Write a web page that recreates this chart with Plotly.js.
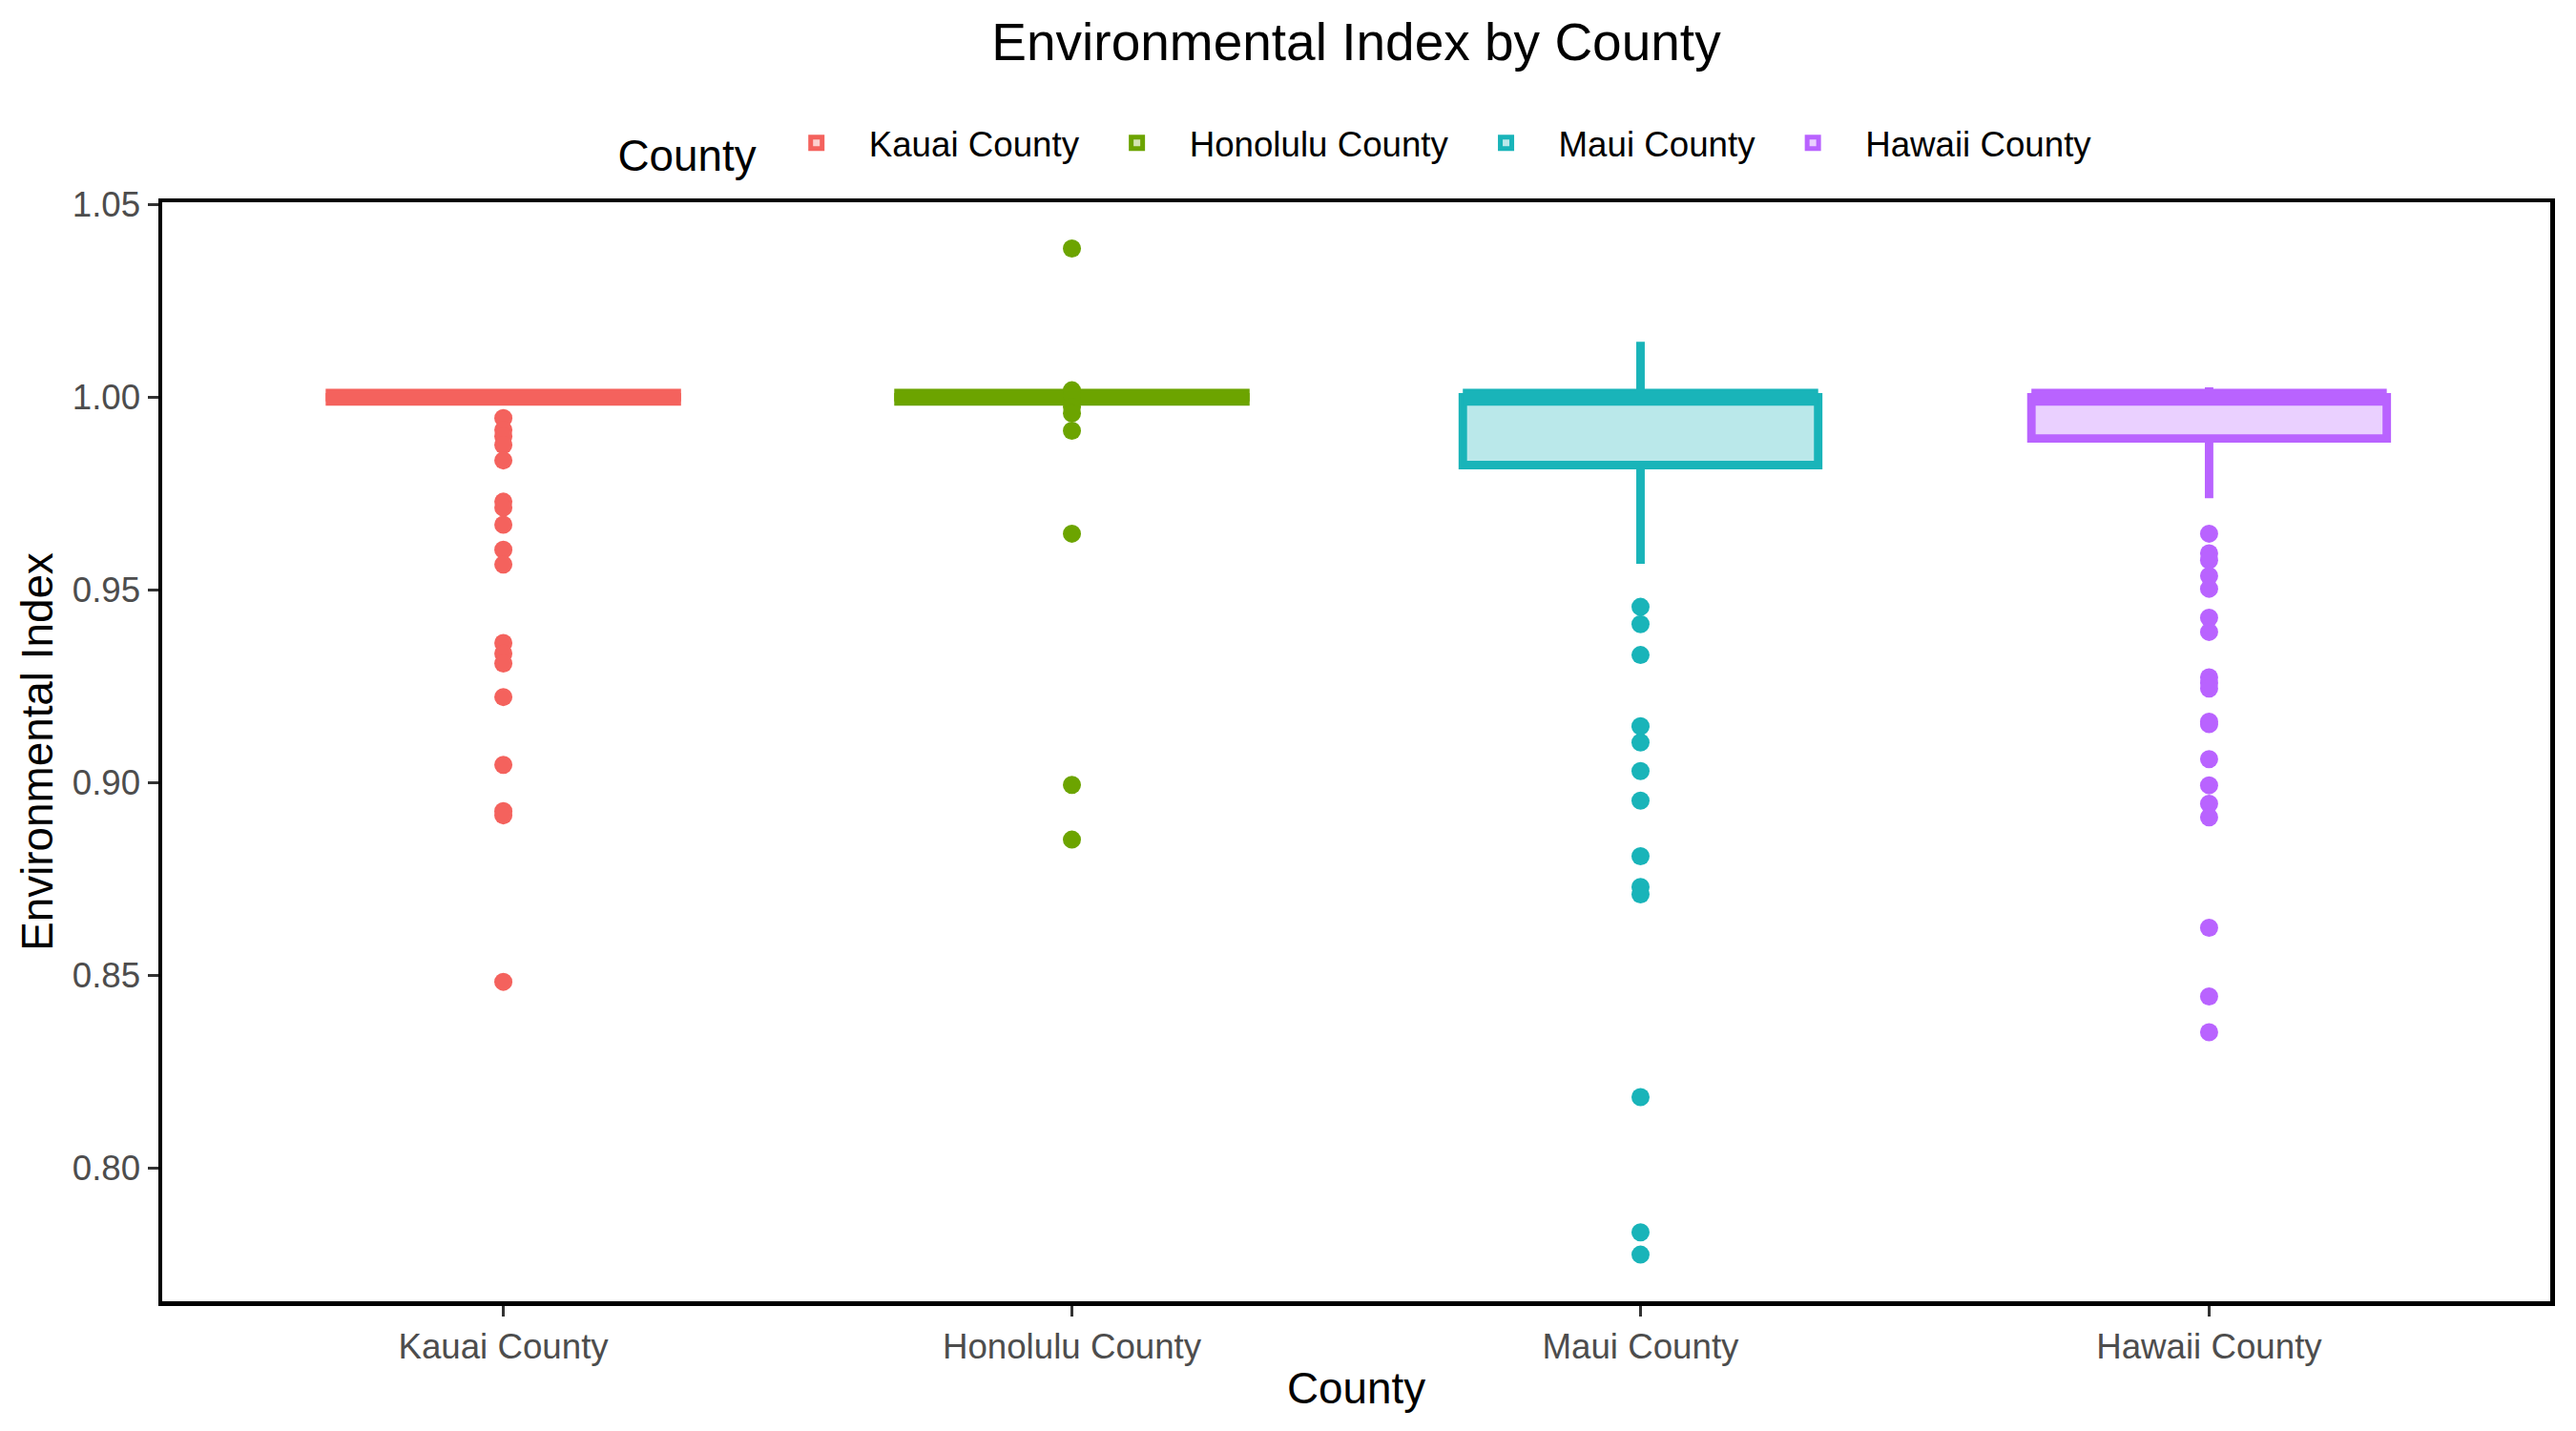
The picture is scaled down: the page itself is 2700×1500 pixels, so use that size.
<!DOCTYPE html>
<html>
<head>
<meta charset="utf-8">
<script src="https://cdn.plot.ly/plotly-3.0.1.min.js"></script>
<style>
  html, body { margin: 0; padding: 0; background: #ffffff; }
  #chart { width: 2700px; height: 1500px; }
</style>
</head>
<body>
<div id="chart"></div>
<script>
// ---- Data ----
const counties = ['Kauai County', 'Honolulu County', 'Maui County', 'Hawaii County'];

// Box statistics per county (same order as counties)
const q1Values = [1.0, 1.0, 0.9824, 0.9893];
const medianValues = [1.0, 1.0, 1.0, 1.0];
const q3Values = [1.0, 1.0, 1.0, 1.0];
const lowerWhiskers = [1.0, 1.0, 0.9568, 0.9738];
const upperWhiskers = [1.0, 1.0, 1.0144, 1.0026];

// Outlier points per county
const kauaiOutliers = [0.9946, 0.9915, 0.9898, 0.9876, 0.9836, 0.9729, 0.9714, 0.9669, 0.9604,
  0.9566, 0.9362, 0.9335, 0.9309, 0.9222, 0.9046, 0.8926, 0.8915, 0.8483];
const honoluluOutliers = [1.0386, 1.0018, 1.0006, 0.9975, 0.9958, 0.9913, 0.9646, 0.8994, 0.8852];
const mauiOutliers = [0.9456, 0.9411, 0.9331, 0.9146, 0.9104, 0.9030, 0.8953, 0.8809, 0.8729,
  0.8710, 0.8184, 0.7833, 0.7775];
const hawaiiOutliers = [0.9646, 0.9595, 0.9577, 0.9536, 0.9503, 0.9428, 0.9391, 0.9273, 0.9258,
  0.9244, 0.9158, 0.9152, 0.9061, 0.8993, 0.8945, 0.8910, 0.8623, 0.8445, 0.8352];
const outliers = [kauaiOutliers, honoluluOutliers, mauiOutliers, hawaiiOutliers];

// ---- Styles ----
const lineColors = ['rgb(244,98,93)', 'rgb(108,164,0)', 'rgb(25,180,185)', 'rgb(185,99,255)'];
const fillColors = ['rgba(244,98,93,0.3)', 'rgba(108,164,0,0.3)', 'rgba(25,180,185,0.3)', 'rgba(185,99,255,0.3)'];
const FONT = 'Liberation Sans, Arial, Helvetica, sans-serif';
const BOX_WIDTH = 0.625;

const traces = [];
counties.forEach((c, i) => {
  traces.push({
    type: 'box',
    name: c,
    legendgroup: c,
    x: [c],
    q1: [q1Values[i]],
    median: [medianValues[i]],
    q3: [q3Values[i]],
    lowerfence: [lowerWhiskers[i]],
    upperfence: [upperWhiskers[i]],
    width: BOX_WIDTH,
    whiskerwidth: 0,
    boxpoints: false,
    line: { color: lineColors[i], width: 8.9 },
    fillcolor: fillColors[i],
    hoverinfo: 'skip'
  });
  // thicker median line (ggplot fatten = 2)
  traces.push({
    type: 'box',
    name: c + ' median',
    legendgroup: c,
    showlegend: false,
    x: [c],
    q1: [medianValues[i]],
    median: [medianValues[i]],
    q3: [medianValues[i]],
    lowerfence: [medianValues[i]],
    upperfence: [medianValues[i]],
    width: BOX_WIDTH,
    whiskerwidth: 0,
    boxpoints: false,
    line: { color: lineColors[i], width: 17.7 },
    fillcolor: 'rgba(0,0,0,0)',
    hoverinfo: 'skip'
  });
});
counties.forEach((c, i) => {
  traces.push({
    type: 'scatter',
    mode: 'markers',
    name: c + ' outliers',
    legendgroup: c,
    showlegend: false,
    x: outliers[i].map(() => c),
    y: outliers[i],
    marker: { color: lineColors[i], size: 19, line: { width: 0 } },
    hoverinfo: 'y'
  });
});

const layout = {
  width: 2700,
  height: 1500,
  paper_bgcolor: '#ffffff',
  plot_bgcolor: '#ffffff',
  font: { family: FONT, color: '#000000' },
  margin: { l: 170, r: 27, t: 212, b: 136, pad: 0 },
  boxmode: 'overlay',
  showlegend: true,
  title: {
    text: 'Environmental Index by County',
    font: { family: FONT, size: 55, color: '#000000' },
    x: 0.5, xref: 'paper', xanchor: 'center',
    y: 1 - 44 / 1500, yref: 'container', yanchor: 'middle'
  },
  legend: {
    orientation: 'h',
    x: 0.5, xanchor: 'center',
    y: 1.05, yanchor: 'middle',
    itemwidth: 100,
    font: { family: FONT, size: 36.7, color: '#000000' },
    title: { text: 'County', side: 'left', font: { family: FONT, size: 45.8, color: '#000000' } },
    bgcolor: 'rgba(0,0,0,0)',
    itemclick: false
  },
  xaxis: {
    type: 'category',
    categoryorder: 'array',
    categoryarray: counties,
    range: [-0.6, 3.6],
    showgrid: false,
    zeroline: false,
    showline: true,
    mirror: true,
    linecolor: '#000000',
    linewidth: 4.5,
    ticks: 'outside',
    ticklen: 11,
    tickwidth: 3.3,
    tickcolor: '#333333',
    tickfont: { family: FONT, size: 36.7, color: '#4D4D4D' },
    title: { text: 'County', font: { family: FONT, size: 45.8, color: '#000000' }, standoff: 10 },
    fixedrange: true
  },
  yaxis: {
    range: [0.7654, 1.0506],
    tick0: 0.8,
    dtick: 0.05,
    tickformat: '.2f',
    showgrid: false,
    zeroline: false,
    showline: true,
    mirror: true,
    linecolor: '#000000',
    linewidth: 4.5,
    ticks: 'outside',
    ticklen: 11,
    tickwidth: 3.3,
    tickcolor: '#333333',
    tickfont: { family: FONT, size: 36.7, color: '#4D4D4D' },
    title: { text: 'Environmental Index', font: { family: FONT, size: 45.8, color: '#000000' }, standoff: 7 },
    fixedrange: true
  }
};

Plotly.newPlot('chart', traces, layout, { displayModeBar: false, staticPlot: true });
</script>
</body>
</html>
